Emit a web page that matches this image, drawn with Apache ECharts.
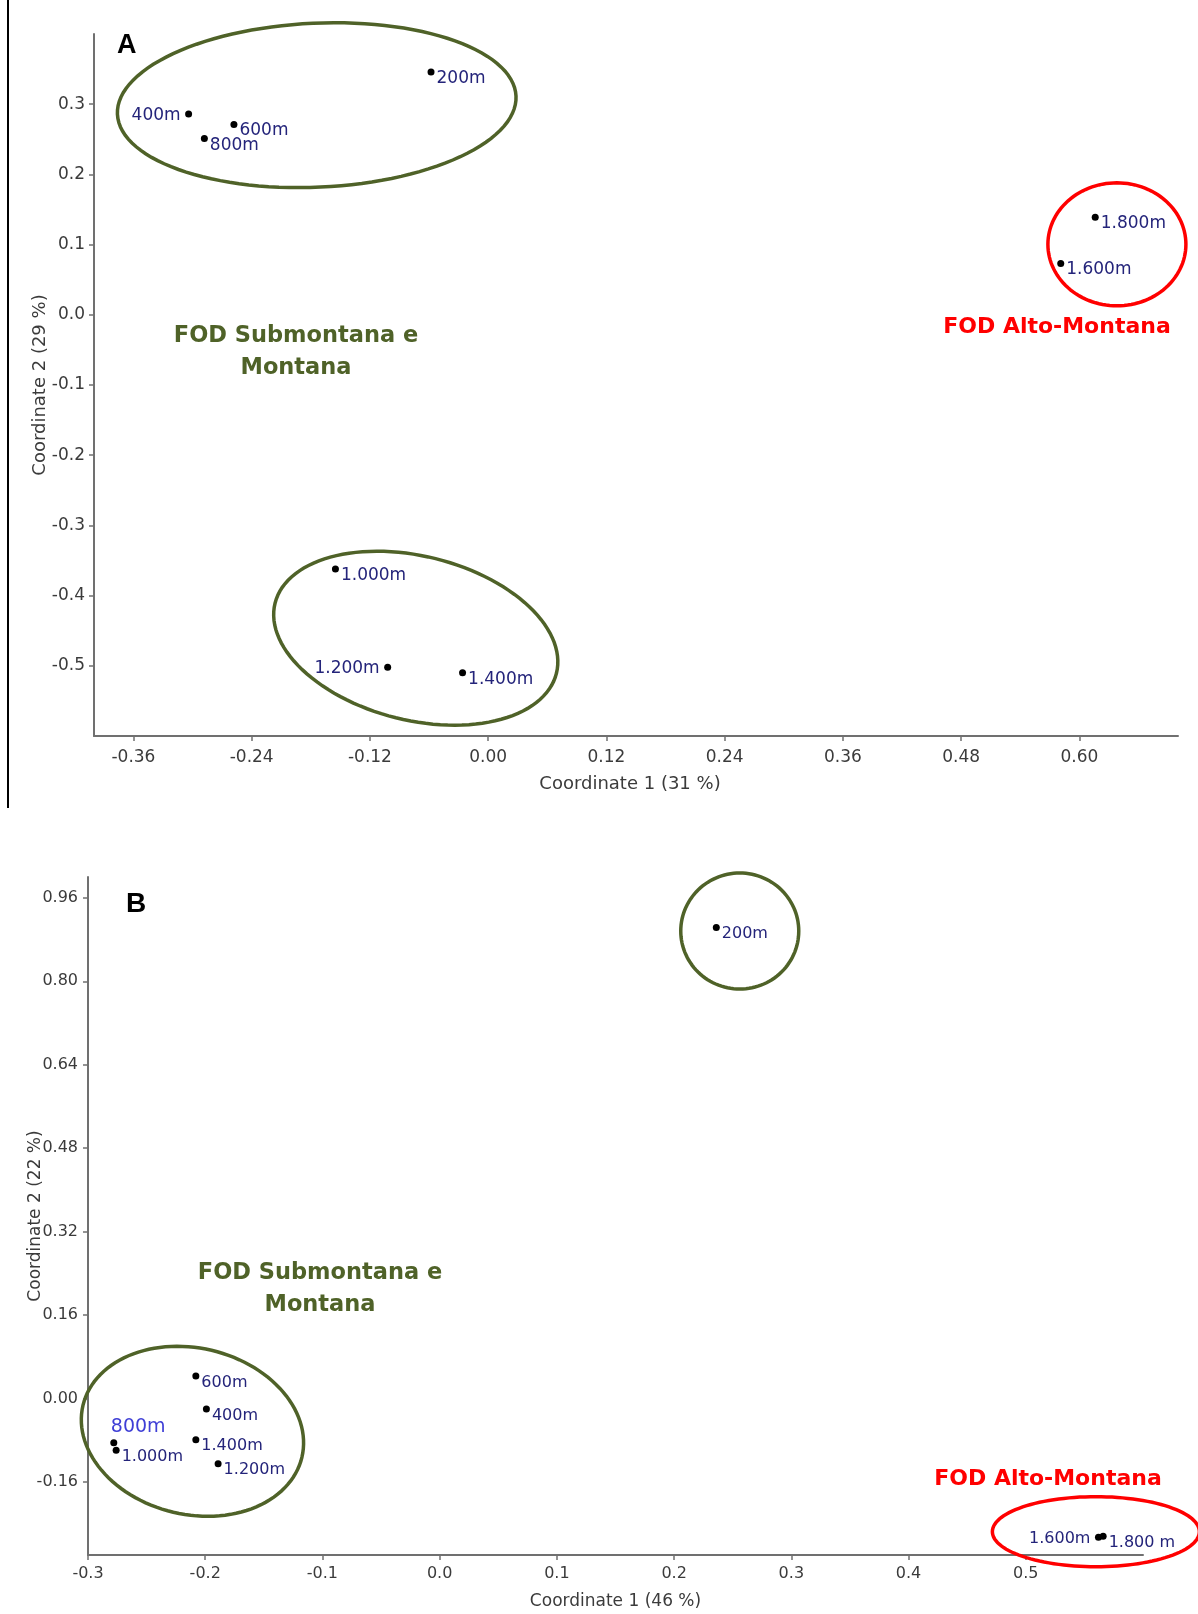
<!DOCTYPE html>
<html>
<head>
<meta charset="utf-8">
<script src="https://cdn.jsdelivr.net/npm/echarts@6/dist/echarts.min.js"></script>
<style>
  html, body { margin: 0; padding: 0; background: #ffffff; }
  #chart { width: 1198px; height: 1614px; }
</style>
</head>
<body>
<div id="chart"></div>
<script>
// ---------- Data: panel A ----------
const namesA   = ['200m', '400m', '600m', '800m', '1.000m', '1.200m', '1.400m', '1.600m', '1.800m'];
const coord1A  = [-0.058, -0.304, -0.258, -0.288, -0.155, -0.102, -0.026, 0.581, 0.616];
const coord2A  = [0.346, 0.286, 0.271, 0.251, -0.362, -0.502, -0.510, 0.073, 0.139];
const labelSideA = ['right', 'left', 'right', 'right', 'right', 'left', 'right', 'right', 'right'];
const xTicksA  = [-0.36, -0.24, -0.12, 0.00, 0.12, 0.24, 0.36, 0.48, 0.60];
const yTicksA  = [-0.5, -0.4, -0.3, -0.2, -0.1, 0.0, 0.1, 0.2, 0.3];

// ---------- Data: panel B ----------
const namesB   = ['200m', '400m', '600m', '800m', '1.000m', '1.200m', '1.400m', '1.600m', '1.800 m'];
const coord1B  = [0.236, -0.199, -0.208, -0.278, -0.276, -0.189, -0.208, 0.562, 0.566];
const coord2B  = [0.903, -0.020, 0.043, -0.085, -0.099, -0.125, -0.079, -0.266, -0.264];
const labelSideB = ['right', 'right', 'right', 'above', 'right', 'right', 'right', 'left', 'right'];
const xTicksB  = [-0.3, -0.2, -0.1, 0.0, 0.1, 0.2, 0.3, 0.4, 0.5];
const yTicksB  = [-0.16, 0.00, 0.16, 0.32, 0.48, 0.64, 0.80, 0.96];

// ---------- Group ellipses (annotation): centre in data units ----------
const ellCxA = [-0.174, -0.0735, 0.638];
const ellCyA = [0.2986, -0.4607, 0.1004];
const ellCxB = [0.256, -0.2109, 0.5598];
const ellCyB = [0.8964, -0.0628, -0.2553];
// ellipse shape (pixels / degrees) and colours
const ellShapeA = [[199.5, 82, -2.6], [145, 82, 14], [69, 61.5, 0]];
const ellShapeB = [[59, 58, 0], [112.5, 83.2, 13.3], [103.5, 35, 0]];
const ellColorA = ['#4f6228', '#4f6228', '#ff0000'];
const ellColorB = ['#4f6228', '#4f6228', '#ff0000'];

const GREEN = '#4f6228';
const RED = '#ff0000';
const PT_LABEL = '#24247a';
const AXIS_TXT = '#3b3b3b';
const FONT = '"DejaVu Sans", sans-serif';

function labelFor(side) {
  if (side === 'left') {
    return { show: true, position: 'left', distance: 4.5, offset: [0, 1.5] };
  }
  if (side === 'above') {
    return { show: true, position: [0.5, -22], fontSize: 19, color: '#3f3fd6' };
  }
  return { show: true, position: 'right', distance: 2, offset: [0, 6.5] };
}

function pointData(names, xs, ys, sides) {
  return names.map((n, i) => ({ name: n, value: [xs[i], ys[i]], label: labelFor(sides[i]) }));
}

function ellipseData(cx, cy, shape) {
  return cx.map((x, i) => [x, cy[i], shape[i][0], shape[i][1], shape[i][2], i]);
}

function ellipseRenderer(colors) {
  return function (params, api) {
    const c = api.coord([api.value(0), api.value(1)]);
    const a = api.value(2), b = api.value(3);
    const r = api.value(4) * Math.PI / 180;
    const col = colors[api.value(5)];
    const pts = [];
    const N = 120;
    for (let k = 0; k < N; k++) {
      const t = 2 * Math.PI * k / N;
      const ex = a * Math.cos(t), ey = b * Math.sin(t);
      pts.push([c[0] + ex * Math.cos(r) - ey * Math.sin(r), c[1] + ex * Math.sin(r) + ey * Math.cos(r)]);
    }
    return {
      type: 'polygon',
      shape: { points: pts },
      style: { fill: 'none', stroke: col, lineWidth: 3.5 }
    };
  };
}

function valueAxis(opts) {
  return Object.assign({
    type: 'value',
    splitLine: { show: false },
    axisLine: { show: true, onZero: false, lineStyle: { color: '#707070', width: 2 } },
    nameLocation: 'middle',
    nameMoveOverlap: false
  }, opts);
}

const chart = echarts.init(document.getElementById('chart'), null, { renderer: 'canvas' });

const option = {
  backgroundColor: '#ffffff',
  animation: false,
  textStyle: { fontFamily: FONT },
  grid: [
    { left: 94, top: 34, width: 1084, height: 702 },
    { left: 88, top: 877, width: 1055, height: 678 }
  ],
  xAxis: [
    valueAxis({
      gridIndex: 0, min: -0.4, max: 0.7,
      name: 'Coordinate 1 (31 %)', nameGap: 39,
      nameTextStyle: { fontFamily: FONT, color: AXIS_TXT, fontSize: 18, padding: [0, 12, 0, 0] },
      axisTick: { show: true, length: 5, customValues: xTicksA, lineStyle: { color: '#707070', width: 1.5 } },
      axisLabel: { customValues: xTicksA, margin: 13, fontSize: 17, color: AXIS_TXT, fontFamily: FONT,
        formatter: v => v.toFixed(2) }
    }),
    valueAxis({
      gridIndex: 1, min: -0.3, max: 0.6,
      name: 'Coordinate 1 (46 %)', nameGap: 38,
      nameTextStyle: { fontFamily: FONT, color: AXIS_TXT, fontSize: 17 },
      axisTick: { show: true, length: 5, customValues: xTicksB, lineStyle: { color: '#707070', width: 1.5 } },
      axisLabel: { customValues: xTicksB, margin: 11, fontSize: 16, color: AXIS_TXT, fontFamily: FONT,
        formatter: v => v.toFixed(1) }
    })
  ],
  yAxis: [
    valueAxis({
      gridIndex: 0, min: -0.6, max: 0.4,
      name: 'Coordinate 2 (29 %)', nameGap: 45,
      nameTextStyle: { fontFamily: FONT, color: AXIS_TXT, fontSize: 18 },
      axisTick: { show: true, length: 5, customValues: yTicksA, lineStyle: { color: '#707070', width: 1.5 } },
      axisLabel: { customValues: yTicksA, margin: 9, fontSize: 17, color: AXIS_TXT, fontFamily: FONT,
        formatter: v => v.toFixed(1) }
    }),
    valueAxis({
      gridIndex: 1, min: -0.3, max: 1.0,
      name: 'Coordinate 2 (22 %)', nameGap: 44,
      nameTextStyle: { fontFamily: FONT, color: AXIS_TXT, fontSize: 17 },
      axisTick: { show: true, length: 5, customValues: yTicksB, lineStyle: { color: '#707070', width: 1.5 } },
      axisLabel: { customValues: yTicksB, margin: 10, fontSize: 16, color: AXIS_TXT, fontFamily: FONT,
        formatter: v => v.toFixed(2) }
    })
  ],
  series: [
    {
      type: 'custom', xAxisIndex: 0, yAxisIndex: 0, clip: false, silent: true,
      encode: { x: 0, y: 1 },
      renderItem: ellipseRenderer(ellColorA),
      data: ellipseData(ellCxA, ellCyA, ellShapeA)
    },
    {
      type: 'custom', xAxisIndex: 1, yAxisIndex: 1, clip: false, silent: true,
      encode: { x: 0, y: 1 },
      renderItem: ellipseRenderer(ellColorB),
      data: ellipseData(ellCxB, ellCyB, ellShapeB)
    },
    {
      type: 'scatter', xAxisIndex: 0, yAxisIndex: 0,
      symbol: 'circle', symbolSize: 7,
      itemStyle: { color: '#000000', opacity: 1 },
      label: { show: true, formatter: '{b}', color: PT_LABEL, fontSize: 17, fontFamily: FONT },
      data: pointData(namesA, coord1A, coord2A, labelSideA)
    },
    {
      type: 'scatter', xAxisIndex: 1, yAxisIndex: 1,
      symbol: 'circle', symbolSize: 7,
      itemStyle: { color: '#000000', opacity: 1 },
      label: { show: true, formatter: '{b}', color: PT_LABEL, fontSize: 16, fontFamily: FONT },
      data: pointData(namesB, coord1B, coord2B, labelSideB)
    }
  ],
  graphic: [
    { type: 'line', shape: { x1: 8, y1: 0, x2: 8, y2: 808 }, style: { stroke: '#000', lineWidth: 2 } },
    { type: 'text', x: 117, y: 46, style: { text: 'A', font: 'bold 27px "Liberation Sans", Arial, sans-serif',
        fill: '#000', textVerticalAlign: 'middle' } },
    { type: 'text', x: 126, y: 904, style: { text: 'B', font: 'bold 28px "Liberation Sans Narrow", "Liberation Sans", sans-serif',
        fill: '#000', textVerticalAlign: 'middle' } },
    { type: 'text', x: 296, y: 352.5, style: { text: 'FOD Submontana e\nMontana', font: 'bold 22.5px "DejaVu Sans", sans-serif',
        fill: GREEN, textAlign: 'center', textVerticalAlign: 'middle', lineHeight: 32 } },
    { type: 'text', x: 1057, y: 327, style: { text: 'FOD Alto-Montana', font: 'bold 22px "DejaVu Sans", sans-serif',
        fill: RED, textAlign: 'center', textVerticalAlign: 'middle' } },
    { type: 'text', x: 320, y: 1289, style: { text: 'FOD Submontana e\nMontana', font: 'bold 22.5px "DejaVu Sans", sans-serif',
        fill: GREEN, textAlign: 'center', textVerticalAlign: 'middle', lineHeight: 32 } },
    { type: 'text', x: 1048, y: 1479, style: { text: 'FOD Alto-Montana', font: 'bold 22px "DejaVu Sans", sans-serif',
        fill: RED, textAlign: 'center', textVerticalAlign: 'middle' } }
  ]
};

chart.setOption(option);
</script>
</body>
</html>
